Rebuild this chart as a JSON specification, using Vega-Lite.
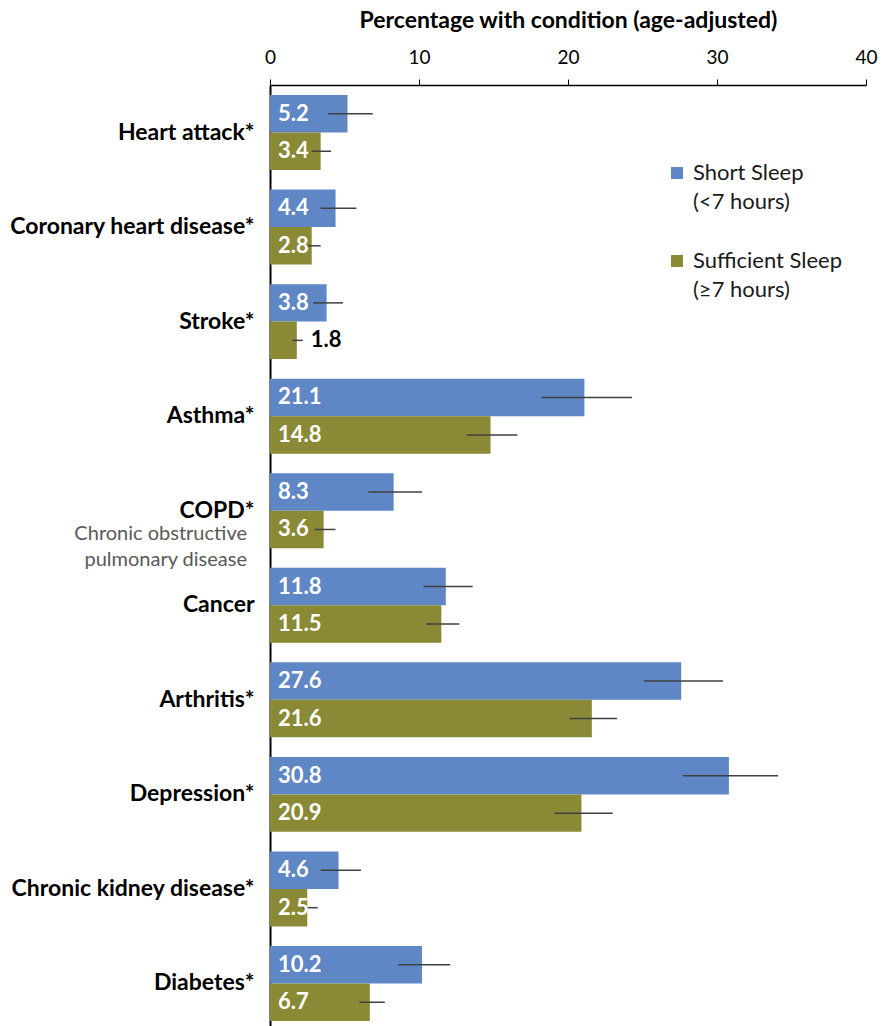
{
  "$schema": "https://vega.github.io/schema/vega-lite/v6.json",
  "width": 596,
  "height": 941,
  "autosize": {"type": "none"},
  "padding": {"left": 270, "top": 85, "right": 27, "bottom": 0},
  "background": "white",
  "config": {
    "view": {"stroke": null},
    "font": "Lato",
    "style": {"guide-label": {"lineHeight": 29}}
  },
  "data": {
    "values": [
      {"condition": "Heart attack*", "series": "Short Sleep", "value": 5.2, "lo": 3.9, "hi": 6.9},
      {"condition": "Heart attack*", "series": "Sufficient Sleep", "value": 3.4, "lo": 2.8, "hi": 4.1},
      {"condition": "Coronary heart disease*", "series": "Short Sleep", "value": 4.4, "lo": 3.4, "hi": 5.8},
      {"condition": "Coronary heart disease*", "series": "Sufficient Sleep", "value": 2.8, "lo": 2.4, "hi": 3.4},
      {"condition": "Stroke*", "series": "Short Sleep", "value": 3.8, "lo": 2.9, "hi": 4.9},
      {"condition": "Stroke*", "series": "Sufficient Sleep", "value": 1.8, "lo": 1.5, "hi": 2.2},
      {"condition": "Asthma*", "series": "Short Sleep", "value": 21.1, "lo": 18.2, "hi": 24.3},
      {"condition": "Asthma*", "series": "Sufficient Sleep", "value": 14.8, "lo": 13.2, "hi": 16.6},
      {"condition": "COPD*", "series": "Short Sleep", "value": 8.3, "lo": 6.6, "hi": 10.2},
      {"condition": "COPD*", "series": "Sufficient Sleep", "value": 3.6, "lo": 3.0, "hi": 4.4},
      {"condition": "Cancer", "series": "Short Sleep", "value": 11.8, "lo": 10.3, "hi": 13.6},
      {"condition": "Cancer", "series": "Sufficient Sleep", "value": 11.5, "lo": 10.5, "hi": 12.7},
      {"condition": "Arthritis*", "series": "Short Sleep", "value": 27.6, "lo": 25.1, "hi": 30.4},
      {"condition": "Arthritis*", "series": "Sufficient Sleep", "value": 21.6, "lo": 20.1, "hi": 23.3},
      {"condition": "Depression*", "series": "Short Sleep", "value": 30.8, "lo": 27.7, "hi": 34.1},
      {"condition": "Depression*", "series": "Sufficient Sleep", "value": 20.9, "lo": 19.1, "hi": 23.0},
      {"condition": "Chronic kidney disease*", "series": "Short Sleep", "value": 4.6, "lo": 3.4, "hi": 6.1},
      {"condition": "Chronic kidney disease*", "series": "Sufficient Sleep", "value": 2.5, "lo": 2.2, "hi": 3.2},
      {"condition": "Diabetes*", "series": "Short Sleep", "value": 10.2, "lo": 8.6, "hi": 12.1},
      {"condition": "Diabetes*", "series": "Sufficient Sleep", "value": 6.7, "lo": 6.0, "hi": 7.7}
    ]
  },
  "encoding": {
    "y": {
      "field": "condition",
      "type": "nominal",
      "sort": null,
      "scale": {"range": [0, 946], "paddingInner": 0.207, "paddingOuter": 0.106},
      "axis": {
        "title": null,
        "domainColor": "#000000",
        "domainWidth": 2,
        "ticks": false,
        "labelFont": "Lato",
        "labelFontSize": 23,
        "labelFontWeight": "bold",
        "labelColor": "#000000",
        "labelPadding": 16,
        "labelLimit": 300
      }
    }
  },
  "layer": [
    {
      "mark": {"type": "bar"},
      "encoding": {
        "x": {
          "field": "value",
          "type": "quantitative",
          "title": "Percentage with condition (age-adjusted)",
          "scale": {"domain": [0, 40], "nice": false},
          "axis": {
            "orient": "top",
            "values": [0, 10, 20, 30, 40],
            "grid": false,
            "labelFlush": false,
            "labelFont": "Lato",
            "labelFontSize": 19,
            "labelColor": "#000000",
            "labelPadding": 12,
            "tickSize": 6,
            "tickColor": "#000000",
            "domainColor": "#000000",
            "domainWidth": 1.5,
            "titleFont": "Lato",
            "titleFontSize": 23,
            "titleFontWeight": "bold",
            "titleColor": "#000000",
            "titleBaseline": "alphabetic",
            "titleY": -58
          }
        },
        "yOffset": {"field": "series", "type": "nominal", "sort": null, "scale": {"paddingInner": 0, "paddingOuter": 0}},
        "color": {
          "field": "series",
          "type": "nominal",
          "scale": {"domain": ["Short Sleep", "Sufficient Sleep"], "range": ["#5F87C5", "#8A8A36"]},
          "legend": {
            "title": null,
            "orient": "none",
            "legendX": 396,
            "legendY": 77,
            "padding": 0,
            "symbolType": "square",
            "symbolSize": 144,
            "symbolStrokeWidth": 0,
            "labelFont": "Lato",
            "labelFontSize": 22,
            "labelColor": "#1a1a1a",
            "labelBaseline": "middle",
            "labelOffset": 5,
            "labelLimit": 300,
            "rowPadding": 37,
            "labelExpr": "datum.label == 'Short Sleep' ? ['Short Sleep', '(<7 hours)'] : ['Sufficient Sleep', '(≥7 hours)']"
          }
        }
      }
    },
    {
      "mark": {"type": "rule", "color": "#404040", "strokeWidth": 1.5},
      "encoding": {
        "x": {"field": "lo", "type": "quantitative", "title": "Percentage with condition (age-adjusted)"},
        "x2": {"field": "hi"},
        "yOffset": {"field": "series", "type": "nominal", "sort": null}
      }
    },
    {
      "transform": [{"filter": "datum.value >= 2"}],
      "mark": {"type": "text", "align": "left", "baseline": "middle", "dx": 8, "font": "Lato", "fontSize": 22, "fontWeight": "bold", "color": "#ffffff"},
      "encoding": {
        "x": {"datum": 0, "type": "quantitative"},
        "yOffset": {"field": "series", "type": "nominal", "sort": null},
        "text": {"field": "value", "type": "quantitative", "format": ".1f"}
      }
    },
    {
      "transform": [{"filter": "datum.value < 2"}],
      "mark": {"type": "text", "align": "left", "baseline": "middle", "dx": 8, "font": "Lato", "fontSize": 22, "fontWeight": "bold", "color": "#000000"},
      "encoding": {
        "x": {"field": "hi", "type": "quantitative", "title": "Percentage with condition (age-adjusted)"},
        "yOffset": {"field": "series", "type": "nominal", "sort": null},
        "text": {"field": "value", "type": "quantitative", "format": ".1f"}
      }
    },
    {
      "data": {"values": [{"condition": "COPD*", "note": "Chronic obstructive\npulmonary disease"}]},
      "mark": {"type": "text", "align": "right", "baseline": "alphabetic", "dx": -23, "dy": 29.5, "font": "Lato", "fontSize": 20, "color": "#595959", "lineBreak": "\n", "lineHeight": 26},
      "encoding": {
        "x": {"datum": 0, "type": "quantitative"},
        "text": {"field": "note", "type": "nominal"}
      }
    }
  ]
}
